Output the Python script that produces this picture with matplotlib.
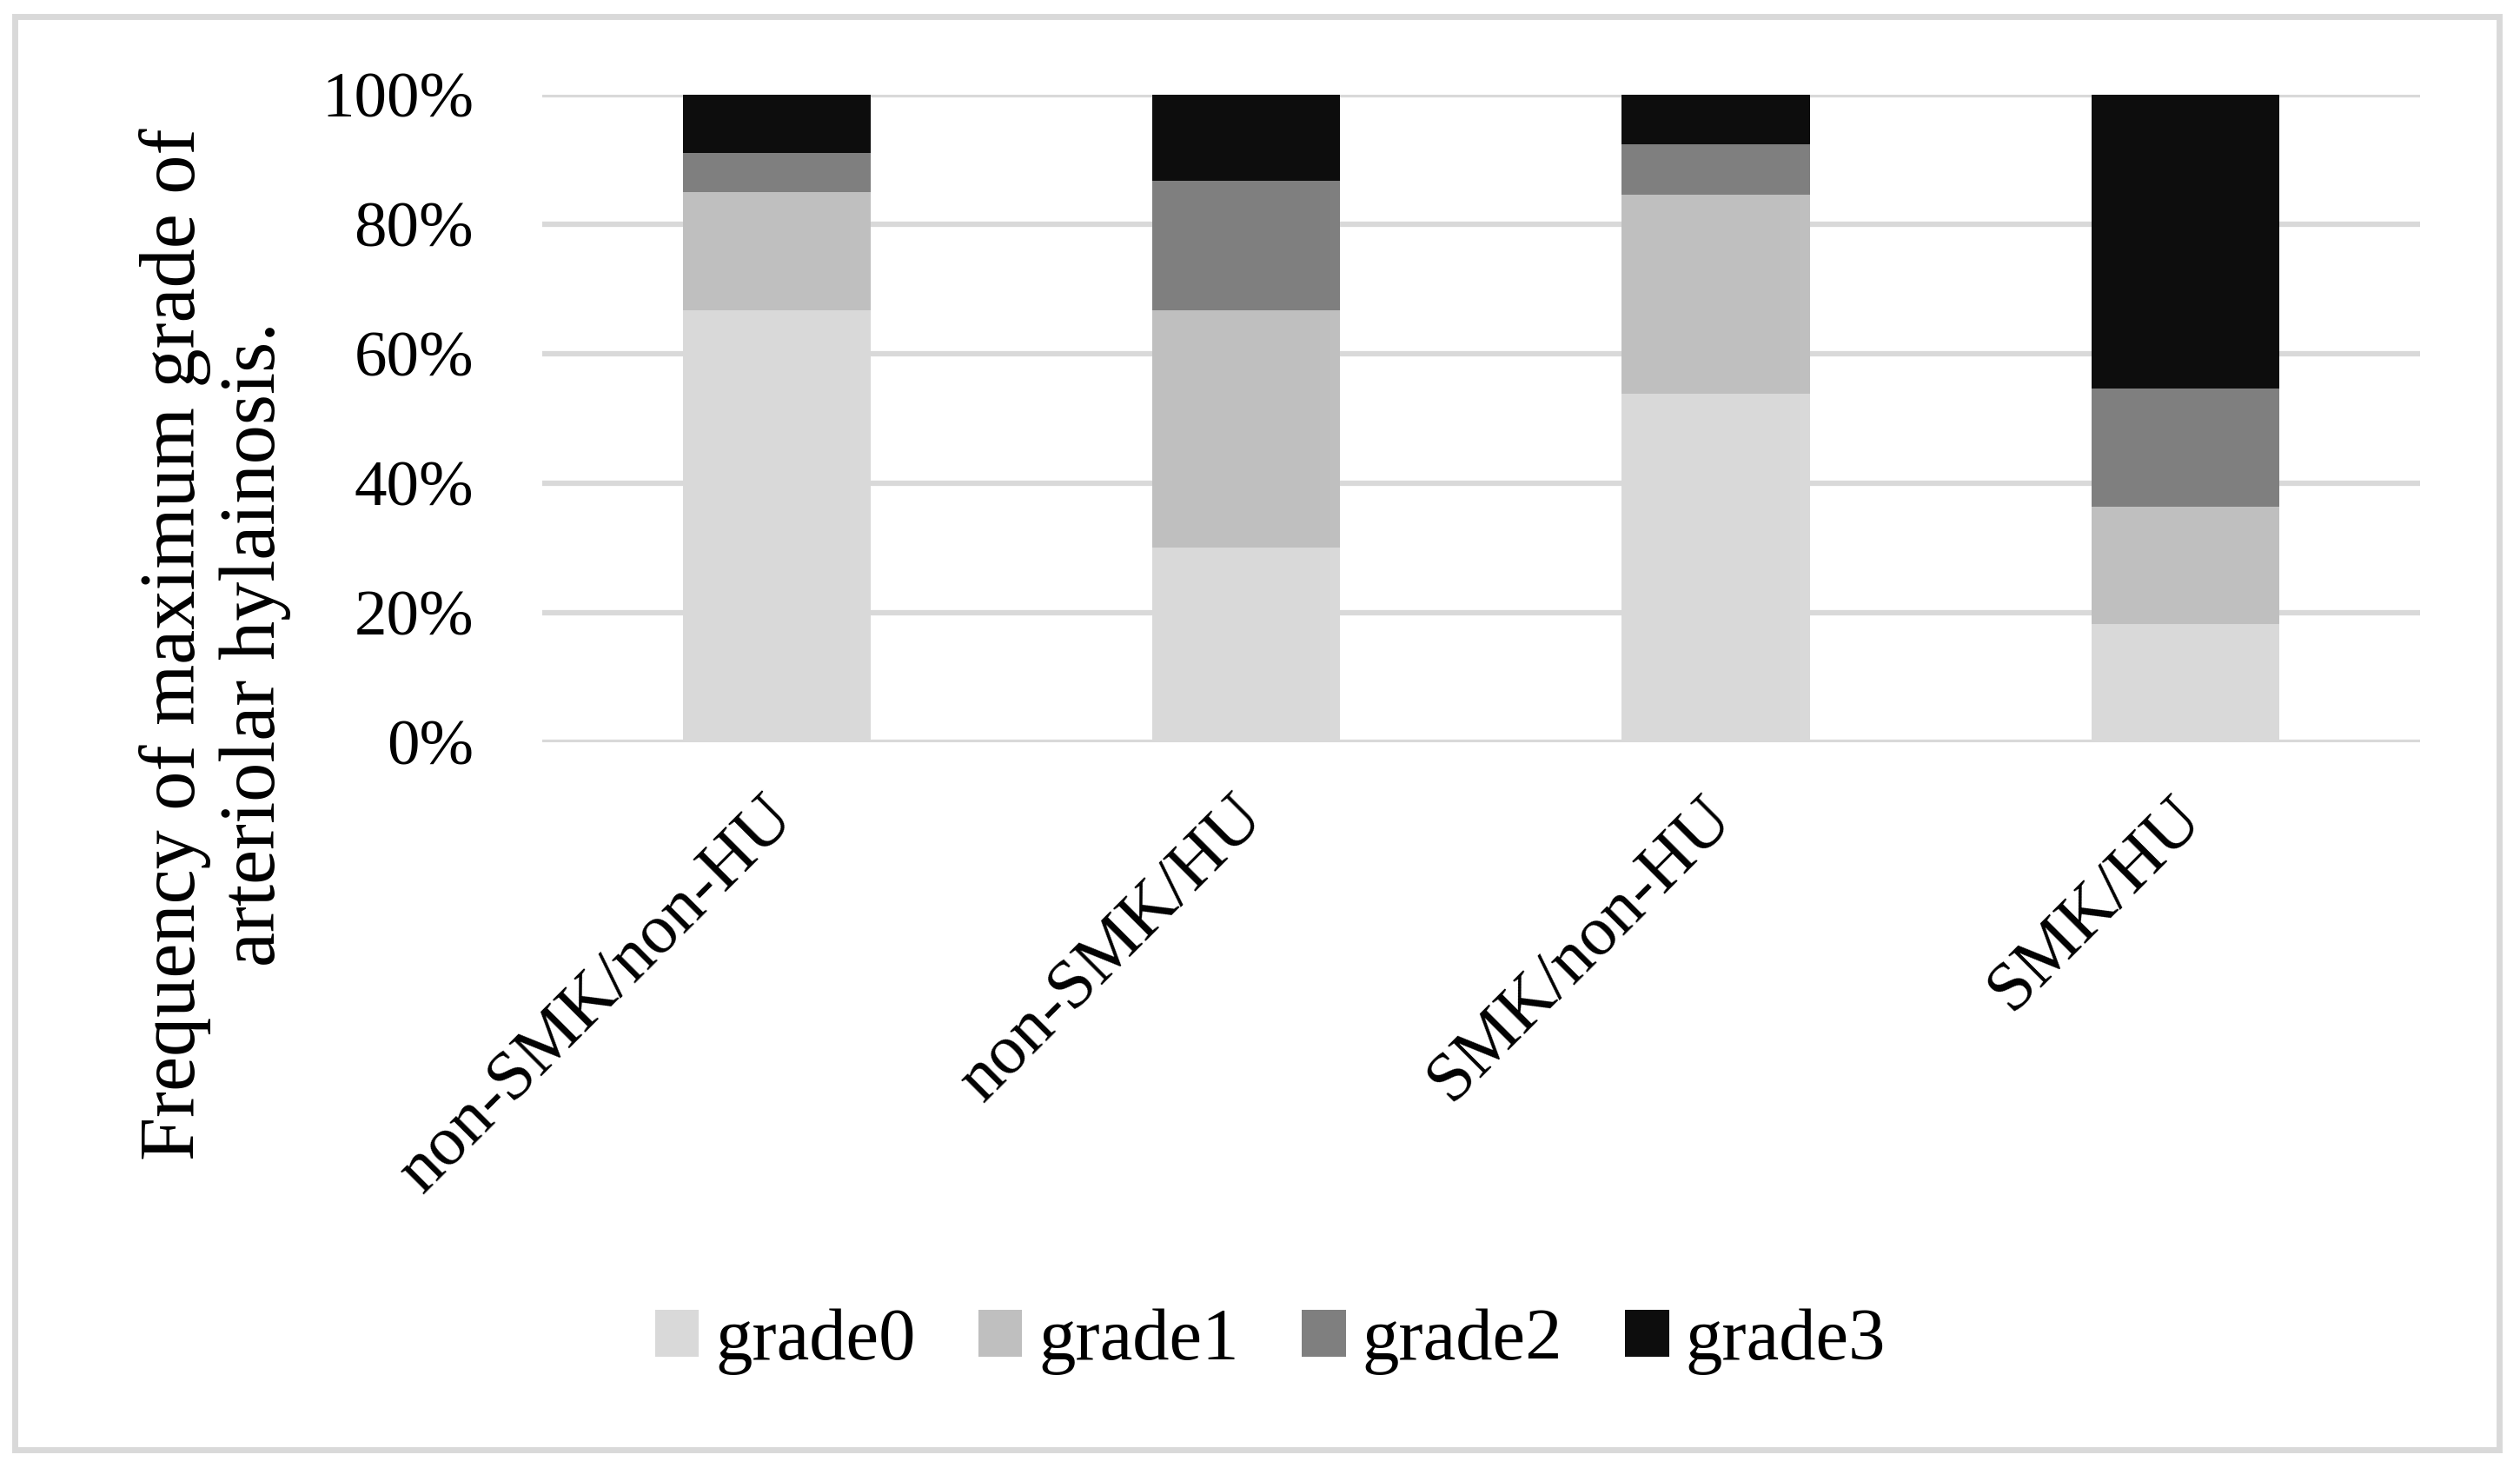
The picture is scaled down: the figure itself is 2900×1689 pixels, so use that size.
import matplotlib
matplotlib.use("Agg")
import matplotlib.pyplot as plt
from matplotlib.patches import Rectangle
from matplotlib.ticker import PercentFormatter
from matplotlib.transforms import ScaledTranslation

groups = ["non-SMK/non-HU", "non-SMK/HU", "SMK/non-HU", "SMK/HU"]
grades = ["grade0", "grade1", "grade2", "grade3"]
# share of each grade per group (fractions)
grade0 = [0.667, 0.300, 0.538, 0.182]
grade1 = [0.182, 0.367, 0.308, 0.182]
grade2 = [0.061, 0.200, 0.077, 0.182]
grade3 = [0.091, 0.133, 0.077, 0.455]
colors = ["#D9D9D9", "#BFBFBF", "#7F7F7F", "#0D0D0D"]

plt.rcParams["font.family"] = ["Liberation Serif", "DejaVu Serif"]

fig = plt.figure(figsize=(29, 16.89), dpi=100)
ax = fig.add_axes([0.2153, 0.4944, 0.7449, 0.4411])

x = list(range(len(groups)))
bottom = [0.0] * len(groups)
for name, vals, c in zip(grades, [grade0, grade1, grade2, grade3], colors):
    ax.bar(x, vals, width=0.4, bottom=bottom, color=c, label=name, zorder=3)
    bottom = [b + v for b, v in zip(bottom, vals)]

ax.set_xlim(-0.5, len(groups) - 0.5)
ax.set_ylim(0, 1)
ax.set_yticks([0, 0.2, 0.4, 0.6, 0.8, 1.0])
ax.yaxis.set_major_formatter(PercentFormatter(1.0, decimals=0))
ax.grid(True, axis="y", color="#D9D9D9", lw=4.5, zorder=0)
ax.set_axisbelow(True)
for s in ax.spines.values():
    s.set_visible(False)
ax.tick_params(axis="y", length=0, pad=57, labelsize=54)
ax.tick_params(axis="x", length=0, pad=36)

ax.set_xticks(x)
ax.set_xticklabels(groups, rotation=45, ha="right", va="top",
                   rotation_mode="anchor", fontsize=58)
for lab in ax.get_xticklabels():
    lab.set_transform(lab.get_transform()
                      + ScaledTranslation(-0.18, 0, fig.dpi_scale_trans))

fig.text(0.0855, 0.561,
         "Frequency of maximum grade of\narteriolar hylainosis.",
         rotation=90, ha="center", va="center", multialignment="center",
         fontsize=65, linespacing=1.15)

ax.legend(loc="center", bbox_to_anchor=(0.504, 0.0864),
          bbox_transform=fig.transFigure, ncol=4, frameon=False,
          fontsize=61, handlelength=0.6, handleheight=0.6,
          handletextpad=0.22, columnspacing=0.85)

# light grey frame around the whole chart
fig.patches.append(Rectangle((0.00586, 0.01243), 0.98586, 0.97632,
                             transform=fig.transFigure, fill=False,
                             edgecolor="#D9D9D9", lw=5))

fig.savefig("out.png", dpi=100, facecolor="white")
